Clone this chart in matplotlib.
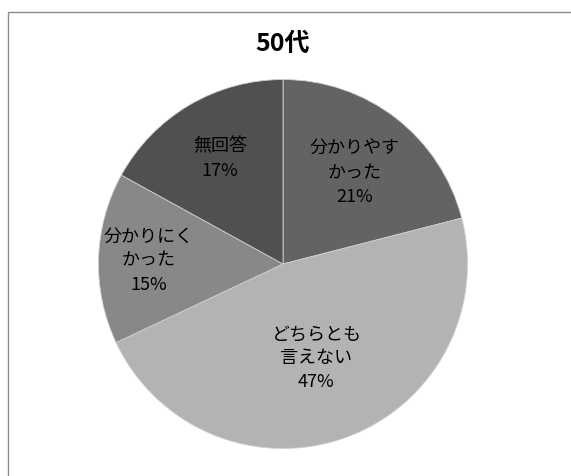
import numpy as np
import matplotlib
matplotlib.use("Agg")
import matplotlib.pyplot as plt
from matplotlib.patches import Rectangle

plt.rcParams['font.family'] = ['Noto Sans CJK JP', 'DejaVu Sans']

title = "50代"
categories = ["分かりやす\nかった", "どちらとも\n言えない", "分かりにく\nかった", "無回答"]
values = [21, 47, 15, 17]
colors = ["#636363", "#b3b3b3", "#888888", "#505050"]
label_dist = [0.63, 0.535, 0.73, 0.67]

W, H = 571, 477
fig = plt.figure(figsize=(W / 100, H / 100), dpi=100)
fig.patch.set_facecolor("white")

cx, cy, R = 283, 477 - 265, 184.5
ax = fig.add_axes([(cx - R) / W, (cy - R) / H, 2 * R / W, 2 * R / H])
wedges, _ = ax.pie(values, colors=colors, startangle=90, counterclock=False,
                   radius=1.0, wedgeprops=dict(edgecolor="#d0d0d0", linewidth=0.6))
ax.set_xlim(-1, 1)
ax.set_ylim(-1, 1)
ax.set_aspect("equal")
ax.axis("off")

for w, cat, v, d in zip(wedges, categories, values, label_dist):
    ang = np.deg2rad((w.theta1 + w.theta2) / 2)
    x, y = d * np.cos(ang), d * np.sin(ang)
    ax.text(x, y, f"{cat}\n{v}%", ha="center", va="center", fontsize=13,
            color="black", linespacing=1.42)

fig.text(cx / W, 1 - 44 / H, title, ha="center", va="center", fontsize=18,
         fontweight="bold")

border = Rectangle((8 / W, -0.5), 2.0, 1.5 - 13 / H, transform=fig.transFigure,
                   fill=False, edgecolor="#8c8c8c", linewidth=1.0, clip_on=False)
fig.patches.append(border)

fig.savefig("out.png", dpi=100, facecolor="white")
